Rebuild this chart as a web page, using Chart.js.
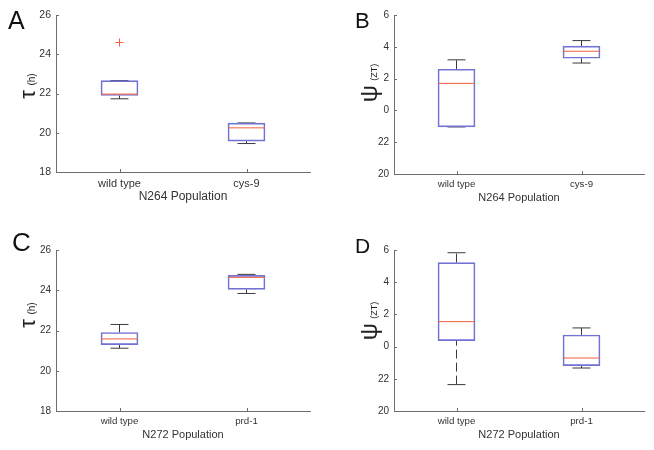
<!DOCTYPE html>
<html>
<head>
<meta charset="utf-8">
<script src="https://cdn.jsdelivr.net/npm/chart.js@4.4.1/dist/chart.umd.min.js"></script>
<style>
  body { margin: 0; background: #fff; width: 654px; height: 450px; position: relative; overflow: hidden;
         font-family: "Liberation Sans", Arial, sans-serif; color: #222; }
  .panel { position: absolute; width: 327px; height: 225px; }
  .letter { position: absolute; line-height: 1; color: #111; }
  .ylab { position: absolute; transform: translate(-50%, -50%) rotate(-90deg); white-space: nowrap; line-height: 1; color: #222; }
</style>
</head>
<body>
<div class="panel" style="left:0;top:0"><canvas id="chartA" width="327" height="225"></canvas></div>
<div class="panel" style="left:327px;top:0"><canvas id="chartB" width="327" height="225"></canvas></div>
<div class="panel" style="left:0;top:225px"><canvas id="chartC" width="327" height="225"></canvas></div>
<div class="panel" style="left:327px;top:225px"><canvas id="chartD" width="327" height="225"></canvas></div>

<div class="letter" style="left:8px;top:8px;font-size:25px">A</div>
<div class="letter" style="left:355px;top:10px;font-size:22px">B</div>
<div class="letter" style="left:12px;top:229px;font-size:26px">C</div>
<div class="letter" style="left:355px;top:235px;font-size:21px">D</div>

<div class="ylab" style="left:28px;top:86px"><span style="font-size:22px">τ</span> <span style="font-size:10px">(h)</span></div>
<div class="ylab" style="left:369px;top:83px"><span style="font-size:24px">ψ</span> <span style="font-size:9px">(ZT)</span></div>
<div class="ylab" style="left:28px;top:315px"><span style="font-size:22px">τ</span> <span style="font-size:10px">(h)</span></div>
<div class="ylab" style="left:369px;top:321px"><span style="font-size:24px">ψ</span> <span style="font-size:9px">(ZT)</span></div>

<script>
// ---- data ----
const groupsA = ['wild type', 'cys-9'];
const lowA  = [21.73, 19.45];
const q1A   = [21.90, 19.57];
const medA  = [21.97, 20.25];
const q3A   = [22.66, 20.49];
const highA = [22.66, 20.50];
const outA  = [[24.6], []];

const groupsB = ['wild type', 'cys-9'];
const lowB  = [-1.04, 2.98];
const q1B   = [-1.04, 3.28];
const medB  = [1.70, 3.72];
const q3B   = [2.59, 4.04];
const highB = [3.18, 4.39];
const outB  = [[], []];

const groupsC = ['wild type', 'prd-1'];
const lowC  = [21.12, 23.84];
const q1C   = [21.30, 24.04];
const medC  = [21.58, 24.64];
const q3C   = [21.90, 24.74];
const highC = [22.30, 24.79];
const outC  = [[], []];

const groupsD = ['wild type', 'prd-1'];
const lowD  = [-2.36, -1.33];
const q1D   = [0.37, -1.18];
const medD  = [1.55, -0.71];
const q3D   = [5.22, 0.72];
const highD = [5.83, 1.16];
const outD  = [[], []];

// tau axis in hours, psi axis in ZT (wraps: -2 -> 22, -4 -> 20)
const tauTicks = [18, 20, 22, 24, 26];
const tauTickLabels = ['18', '20', '22', '24', '26'];
const psiTicks = [-4, -2, 0, 2, 4, 6];
const psiTickLabels = ['20', '22', '0', '2', '4', '6'];

const FONT = '"Liberation Sans", Arial, sans-serif';
const AXIS = '#6e6e6e';
const BOX = '#7272d4';
const MED = '#f0603f';
const WHISK = '#3a3a3a';

// MATLAB style ticks pointing into the plot
const innerTicks = {
  id: 'innerTicks',
  afterDraw(chart) {
    const { ctx, chartArea: a, scales: { x, y } } = chart;
    ctx.save();
    ctx.strokeStyle = AXIS;
    ctx.lineWidth = 1;
    ctx.beginPath();
    y.ticks.forEach((t, i) => {
      const py = Math.round(y.getPixelForTick(i)) + 0.5;
      ctx.moveTo(a.left, py); ctx.lineTo(a.left + 3, py);
    });
    x.ticks.forEach((t, i) => {
      const px = Math.round(x.getPixelForTick(i)) + 0.5;
      ctx.moveTo(px, a.bottom); ctx.lineTo(px, a.bottom - 3);
    });
    ctx.stroke();
    ctx.restore();
  }
};

function boxChart(id, groups, low, q1, med, q3, high, outliers, cfg) {
  const stems = [], caps = [], medians = [], outs = [];
  groups.forEach((g, i) => {
    stems.push({ x: g, y: q3[i] }, { x: g, y: high[i] }, { x: g, y: null });
    stems.push({ x: g, y: low[i] }, { x: g, y: q1[i] }, { x: g, y: null });
    caps.push({ x: g, y: low[i] }, { x: g, y: high[i] });
    medians.push({ x: g, y: med[i] });
    outliers[i].forEach(v => outs.push({ x: g, y: v }));
  });

  return new Chart(document.getElementById(id), {
    type: 'bar',
    data: {
      labels: groups,
      datasets: [
        { type: 'line', data: medians, showLine: false, pointStyle: 'line', pointRadius: 18.5,
          borderColor: MED, pointBorderWidth: 1 },
        { type: 'bar', data: groups.map((g, i) => [q1[i], q3[i]]), barThickness: 37,
          backgroundColor: 'rgba(0,0,0,0)', borderColor: BOX, borderWidth: 1, borderSkipped: false },
        { type: 'line', data: caps, showLine: false, pointStyle: 'line', pointRadius: 9,
          borderColor: WHISK, pointBorderWidth: 1 },
        { type: 'line', data: stems, spanGaps: false, pointRadius: 0, borderColor: WHISK,
          borderWidth: 1, borderDash: [9, 4] },
        { type: 'line', data: outs, showLine: false, pointStyle: 'cross', pointRadius: 4,
          borderColor: MED, pointBorderWidth: 1 }
      ]
    },
    options: {
      responsive: false,
      animation: false,
      events: [],
      layout: { autoPadding: false, padding: { top: cfg.top, right: cfg.right, left: 0, bottom: 0 } },
      plugins: { legend: { display: false }, tooltip: { enabled: false } },
      scales: {
        x: {
          type: 'category', offset: true,
          grid: { display: false, drawTicks: false },
          border: { color: AXIS, width: 1 },
          ticks: { color: '#333', font: { family: FONT, size: cfg.xTick }, padding: cfg.xTickPad, maxRotation: 0 },
          title: { display: true, text: cfg.xTitle, color: '#333',
                   font: { family: FONT, size: cfg.xTitleSize }, padding: { top: 0, bottom: cfg.xTitlePad } },
          afterFit: s => { s.height = cfg.xH; s.paddingLeft = 0; s.paddingRight = 0; }
        },
        y: {
          min: cfg.ticks[0], max: cfg.ticks[cfg.ticks.length - 1],
          grid: { display: false, drawTicks: false },
          border: { color: AXIS, width: 1 },
          afterBuildTicks: s => { s.ticks = cfg.ticks.map(v => ({ value: v })); },
          ticks: { color: '#333', font: { family: FONT, size: cfg.yTick }, padding: 5,
                   callback: (v, i) => cfg.tickLabels[i] },
          afterFit: s => { s.width = cfg.yW; s.paddingTop = 0; s.paddingBottom = 0; }
        }
      }
    },
    plugins: [innerTicks]
  });
}

boxChart('chartA', groupsA, lowA, q1A, medA, q3A, highA, outA, {
  top: 15, right: 17, yW: 56, xH: 53, xTick: 11, xTickPad: 5, xTitle: 'N264 Population',
  xTitleSize: 12, xTitlePad: 21, yTick: 10.5, ticks: tauTicks, tickLabels: tauTickLabels
});
boxChart('chartB', groupsB, lowB, q1B, medB, q3B, highB, outB, {
  top: 15, right: 10, yW: 67, xH: 51, xTick: 9.7, xTickPad: 5, xTitle: 'N264 Population',
  xTitleSize: 11, xTitlePad: 20, yTick: 10, ticks: psiTicks, tickLabels: psiTickLabels
});
boxChart('chartC', groupsC, lowC, q1C, medC, q3C, highC, outC, {
  top: 25, right: 17, yW: 56, xH: 39, xTick: 9.7, xTickPad: 5, xTitle: 'N272 Population',
  xTitleSize: 11, xTitlePad: 8, yTick: 10, ticks: tauTicks, tickLabels: tauTickLabels
});
boxChart('chartD', groupsD, lowD, q1D, medD, q3D, highD, outD, {
  top: 25, right: 10, yW: 67, xH: 39, xTick: 9.7, xTickPad: 5, xTitle: 'N272 Population',
  xTitleSize: 11, xTitlePad: 8, yTick: 10, ticks: psiTicks, tickLabels: psiTickLabels
});
</script>
</body>
</html>
